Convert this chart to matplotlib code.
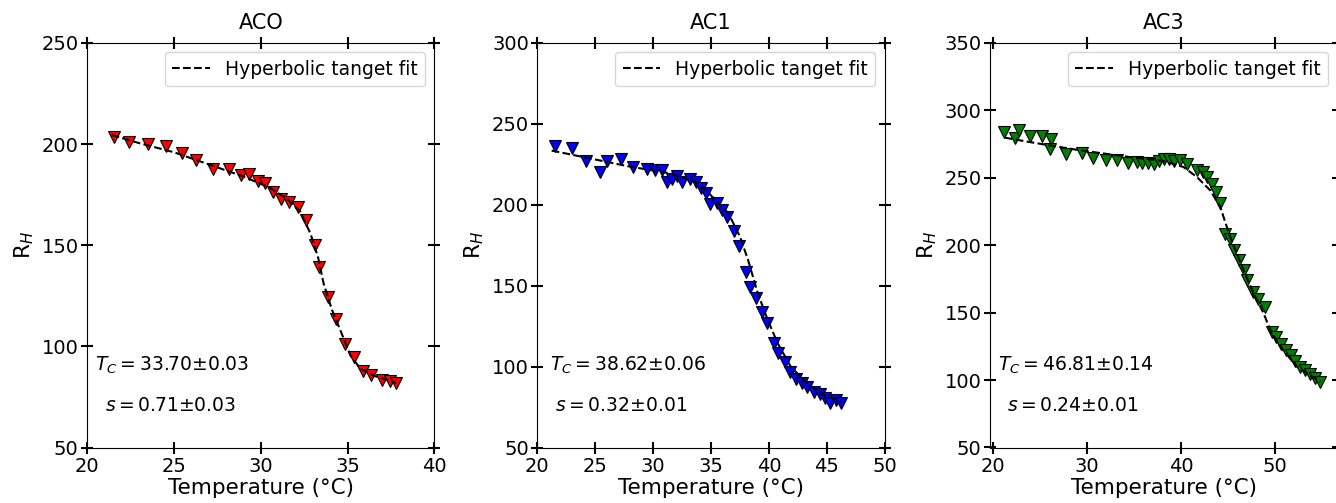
import matplotlib
matplotlib.use("Agg")
import matplotlib.pyplot as plt

titles = ["ACO", "AC1", "AC3"]
colors = ["red", "blue", "green"]
tc_texts = [r"$T_C = 33.70$±0.03", r"$T_C = 38.62$±0.06", r"$T_C = 46.81$±0.14"]
s_texts = [r"$s = 0.71$±0.03", r"$s = 0.32$±0.01", r"$s = 0.24$±0.01"]

# ACO data
t0 = [21.57, 22.40, 23.50, 24.57, 25.48, 26.28, 27.26, 28.17, 28.84, 29.34,
      29.84, 30.22, 30.70, 31.18, 31.64, 32.12, 32.58, 33.12, 33.37, 33.85,
      34.35, 34.85, 35.37, 35.87, 36.37, 36.96, 37.45, 37.81]
r0 = [203.6, 201.1, 200.3, 198.9, 195.4, 192.1, 187.5, 187.5, 184.5, 185.0,
      181.8, 181.0, 176.1, 173.1, 171.3, 169.0, 162.4, 150.0, 139.3, 124.4,
      113.7, 101.3, 94.7, 87.8, 85.6, 83.5, 82.8, 81.8]
fit_t0 = [21.42, 23.0, 25.0, 27.0, 29.0, 30.5, 31.5, 32.28, 32.86, 33.3, 33.62,
          34.1, 34.58, 35.16, 35.73, 36.5, 37.8]
fit_r0 = [204.5, 200.5, 196.0, 190.0, 184.0, 178.5, 173.0, 166.5, 155.8, 144.0,
          131.0, 118.0, 108.0, 95.5, 89.0, 85.5, 82.0]

# AC1 data
t1 = [21.53, 22.96, 24.20, 25.41, 25.98, 27.22, 28.22, 29.48, 30.15, 30.75,
      31.16, 31.59, 32.02, 32.53, 33.16, 33.68, 34.09, 34.54, 34.89, 35.52,
      35.95, 36.41, 36.98, 37.39, 37.99, 38.34, 38.91, 39.40, 39.86, 40.43,
      40.78, 41.41, 41.81, 42.36, 42.84, 43.28, 43.85, 44.37, 44.80, 45.23,
      45.75, 46.24]
r1 = [236.4, 235.0, 227.3, 220.5, 227.3, 228.2, 223.6, 222.0, 221.5, 221.5,
      214.3, 216.0, 218.0, 214.3, 216.0, 214.3, 210.2, 207.5, 200.5, 200.9,
      196.8, 192.6, 184.0, 174.5, 158.6, 149.0, 142.1, 133.9, 127.0, 114.3,
      108.5, 102.9, 96.4, 92.6, 89.9, 87.1, 84.4, 82.9, 80.3, 77.2,
      79.2, 77.6]
fit_t1 = [21.24, 22.82, 27.99, 31.46, 33.95, 35.1, 36.5, 37.5, 38.2, 39.04,
          39.9, 40.76, 41.9, 43.3, 44.8, 46.3]
fit_r1 = [233.5, 231.2, 223.6, 219.5, 213.3, 205.0, 194.7, 180.3, 165.8, 145.2,
          128.7, 114.3, 99.8, 89.5, 82.3, 78.2]

# AC3 data
t2 = [21.17, 22.34, 22.80, 23.94, 25.18, 26.14, 26.06, 27.77, 29.50, 30.67,
      32.02, 33.16, 34.39, 35.29, 35.88, 36.52, 37.13, 37.66, 38.22, 38.72,
      39.29, 39.89, 40.67, 41.73, 42.31, 42.73, 43.27, 43.69, 44.15, 44.68,
      45.14, 45.64, 46.10, 46.63, 46.99, 47.59, 48.16, 48.94, 49.65, 50.11,
      50.61, 51.17, 51.67, 52.13, 52.66, 53.19, 53.72, 54.26, 54.79]
r2 = [283.9, 279.8, 285.7, 280.7, 280.7, 279.0, 271.6, 267.4, 268.4, 264.7,
      263.5, 263.5, 261.3, 261.7, 261.0, 261.0, 260.5, 262.5, 264.2, 263.7,
      262.5, 263.0, 260.0, 255.6, 254.3, 250.6, 245.2, 239.5, 231.6, 208.1,
      205.0, 196.3, 188.9, 182.0, 174.1, 165.4, 160.5, 154.3, 135.8, 132.1,
      126.7, 122.2, 118.5, 114.1, 109.9, 107.4, 104.4, 101.3, 98.8]
fit_t2 = [21.28, 23.94, 29.26, 34.57, 38.1, 40.25, 41.67, 43.09, 44.15, 45.2,
          46.63, 47.7, 48.76, 49.47, 50.53, 52.3, 54.79]
fit_r2 = [279.8, 276.5, 270.4, 265.4, 262.5, 258.0, 250.6, 240.7, 228.4, 206.2,
          181.5, 164.2, 149.4, 137.0, 124.7, 109.9, 98.7]

temps = [t0, t1, t2]
resist = [r0, r1, r2]
fit_ts = [fit_t0, fit_t1, fit_t2]
fit_rs = [fit_r0, fit_r1, fit_r2]
xlims = [(20, 40), (20, 50), (19.7, 56.6)]
ylims = [(50, 250), (50, 300), (50, 350)]
xticks = [[20, 25, 30, 35, 40], [20, 25, 30, 35, 40, 45, 50], [20, 30, 40, 50]]
yticks = [[50, 100, 150, 200, 250], [50, 100, 150, 200, 250, 300],
          [50, 100, 150, 200, 250, 300, 350]]
tc_pos = [(0.023, 0.204), (0.036, 0.204), (0.023, 0.204)]
s_pos = [(0.052, 0.103), (0.050, 0.103), (0.050, 0.103)]

W, H = 1336, 503
fig = plt.figure(figsize=(W / 100, H / 100), dpi=100)
lefts = [87, 537.3, 990]
aw = 347.5
bottom_px, top_px = 447.5, 43

for i in range(3):
    ax = fig.add_axes([lefts[i] / W, 1 - bottom_px / H, aw / W, (bottom_px - top_px) / H])
    ax.plot(temps[i], resist[i], linestyle="none", marker="v", markersize=8,
            markerfacecolor=colors[i], markeredgecolor="black", markeredgewidth=0.8,
            zorder=2)
    ax.plot(fit_ts[i], fit_rs[i], "k--", linewidth=1.5, zorder=3,
            label="Hyperbolic tanget fit")
    ax.set_xlim(*xlims[i])
    ax.set_ylim(*ylims[i])
    ax.set_xticks(xticks[i])
    ax.set_yticks(yticks[i])
    ax.tick_params(direction="inout", length=8, width=1.5, top=True, right=True,
                   labelsize=14, pad=2)
    ax.tick_params(axis="x", pad=3)
    ax.set_title(titles[i], fontsize=15, pad=10)
    ax.set_xlabel("Temperature (°C)", fontsize=15.5, labelpad=1)
    ax.set_ylabel(r"R$_H$", fontsize=15.5, labelpad=4)
    ax.legend(loc="upper right", fontsize=13.5, handlelength=2.0)
    ax.text(tc_pos[i][0], tc_pos[i][1], tc_texts[i], transform=ax.transAxes,
            fontsize=13.5, va="center", ha="left")
    ax.text(s_pos[i][0], s_pos[i][1], s_texts[i], transform=ax.transAxes,
            fontsize=13.5, va="center", ha="left")

fig.savefig("out.png", dpi=100)
